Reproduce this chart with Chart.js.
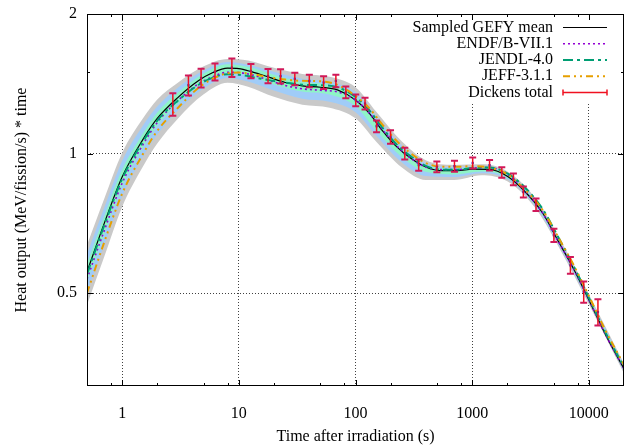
<!DOCTYPE html>
<html lang="en">
<head>
<meta charset="UTF-8">
<title>Heat output after irradiation</title>
<script src="https://cdn.jsdelivr.net/npm/chart.js@4.4.1/dist/chart.umd.min.js"></script>
<style>
    html, body { margin: 0; padding: 0; background: #fff; }
    #heatChart { display: block; }
</style>
</head>
<body>
<canvas id="heatChart" width="628" height="445"></canvas>
<script>
// time grid for the evaluated curves (s)
const modelTimes = [0.5, 0.7, 1, 1.5, 2, 3, 4.5, 6, 8, 10, 13, 18, 25, 35, 50, 70, 100, 130, 170, 220,
    300, 400, 550, 750, 1000, 1400, 2000, 2800, 4000, 5500, 7500, 10000, 14000, 20000];
const gefyMean = [0.555, 0.705, 0.89, 1.07, 1.19, 1.32, 1.435, 1.495, 1.528, 1.525, 1.50, 1.462, 1.423, 1.400, 1.390, 1.372, 1.305, 1.225, 1.12, 1.04,
    0.975, 0.935, 0.918, 0.918, 0.925, 0.924, 0.893, 0.83, 0.745, 0.645, 0.56, 0.483, 0.405, 0.343];
const endfB71 = [0.536, 0.680, 0.863, 1.043, 1.166, 1.300, 1.413, 1.465, 1.497, 1.495, 1.478, 1.440, 1.402, 1.379, 1.369, 1.358, 1.305, 1.225, 1.126, 1.045,
    0.975, 0.935, 0.923, 0.923, 0.930, 0.933, 0.902, 0.834, 0.745, 0.645, 0.56, 0.483, 0.405, 0.343];
const jendl40 = [0.549, 0.698, 0.881, 1.059, 1.178, 1.300, 1.406, 1.458, 1.482, 1.479, 1.463, 1.440, 1.423, 1.407, 1.404, 1.390, 1.325, 1.243, 1.137, 1.052,
    0.985, 0.940, 0.923, 0.923, 0.930, 0.933, 0.906, 0.847, 0.760, 0.658, 0.568, 0.488, 0.409, 0.346];
const jeff311 = [0.50, 0.642, 0.819, 0.995, 1.119, 1.254, 1.385, 1.450, 1.490, 1.495, 1.485, 1.462, 1.444, 1.435, 1.432, 1.406, 1.331, 1.256, 1.154, 1.071,
    0.999, 0.954, 0.936, 0.936, 0.939, 0.933, 0.902, 0.838, 0.756, 0.658, 0.571, 0.493, 0.413, 0.350];

// sampled uncertainty bands
const bandTimes = [0.5, 0.7, 1, 1.5, 2, 3, 5, 8, 12, 20, 35, 60, 100, 150, 250, 400, 700, 1200, 2000, 3500, 6000, 10000, 20000];
const grayHi = [0.635, 0.797, 1.003, 1.188, 1.308, 1.422, 1.542, 1.600, 1.587, 1.531, 1.485, 1.464, 1.390, 1.232, 1.061, 0.967, 0.945, 0.948, 0.915, 0.800, 0.636, 0.497, 0.352];
const grayLo = [0.471, 0.597, 0.767, 0.935, 1.051, 1.189, 1.342, 1.421, 1.394, 1.325, 1.274, 1.256, 1.191, 1.062, 0.933, 0.877, 0.877, 0.898, 0.871, 0.761, 0.605, 0.473, 0.335];
const blueHi = [0.607, 0.762, 0.964, 1.147, 1.263, 1.387, 1.511, 1.576, 1.555, 1.501, 1.449, 1.428, 1.355, 1.201, 1.040, 0.953, 0.935, 0.939, 0.906, 0.792, 0.629, 0.492, 0.348];
const blueLo = [0.503, 0.634, 0.810, 0.983, 1.099, 1.237, 1.383, 1.456, 1.430, 1.367, 1.312, 1.293, 1.228, 1.094, 0.956, 0.894, 0.890, 0.907, 0.880, 0.768, 0.611, 0.478, 0.338];
const greenHi = [0.578, 0.730, 0.922, 1.102, 1.226, 1.352, 1.488, 1.558, 1.538, 1.478, 1.427, 1.406, 1.328, 1.176, 1.023, 0.941, 0.928, 0.936, 0.899, 0.786, 0.624, 0.488, 0.346];
const greenLo = [0.530, 0.668, 0.850, 1.028, 1.149, 1.282, 1.425, 1.494, 1.474, 1.409, 1.360, 1.340, 1.265, 1.122, 0.981, 0.913, 0.901, 0.914, 0.887, 0.774, 0.616, 0.482, 0.340];

// Dickens measurement (value, relative error in %)
const dickensTimes = [2.72, 3.70, 4.75, 6.25, 8.72, 12.7, 17.8, 22.8, 30.2, 40.2, 53.3, 67.9, 82.6, 100.5, 120.7, 151.6,
    199.6, 264.5, 348, 498, 705, 1010, 1409, 1794, 2256, 2746, 3524, 5015, 6947, 9032, 11958];
const dickensValues = [1.278, 1.404, 1.456, 1.50, 1.533, 1.507, 1.470, 1.468, 1.449, 1.434, 1.423, 1.434, 1.356, 1.303, 1.282, 1.145,
    1.086, 1.0, 0.944, 0.936, 0.939, 0.954, 0.944, 0.910, 0.880, 0.826, 0.776, 0.666, 0.574, 0.503, 0.455];
const dickensErrPct = [5.6, 5.0, 4.7, 4.2, 4.6, 3.5, 3.5, 3.5, 3.1, 3.1, 3.2, 3.1, 2.9, 2.9, 2.9, 2.9,
    3.3, 2.9, 2.8, 2.7, 2.7, 2.7, 2.6, 2.6, 2.9, 2.7, 3.1, 3.3, 4.2, 5.3, 6.5];

const xTicks = [1, 10, 100, 1000, 10000];
const yTicks = [0.5, 1, 2];
const xMinorTicks = [0.8, 2, 5, 8, 20, 50, 80, 200, 500, 800, 2000, 5000, 8000];
const yMinorTicks = [1.5];

const FONT = 'Liberation Serif';
const toPoints = (xs, ys) => xs.map((x, i) => ({ x: x, y: ys[i] }));

function lineSet(label, ys, color, width, dash, order) {
    return {
        label: label, data: toPoints(modelTimes, ys), borderColor: color, borderWidth: width,
        borderDash: dash, pointRadius: 0, fill: false, cubicInterpolationMode: 'monotone', order: order
    };
}
function bandSet(ys, color, fill, order) {
    return {
        data: toPoints(bandTimes, ys), borderWidth: 0, borderColor: 'rgba(0,0,0,0)', backgroundColor: color,
        pointRadius: 0, fill: fill, cubicInterpolationMode: 'monotone', order: order
    };
}

// legend entries drawn gnuplot style (text right, sample left)
const legendItems = [
    { text: 'Sampled GEFY mean', color: '#000000', width: 1.2, dash: [] },
    { text: 'ENDF/B-VII.1', color: '#9400d3', width: 1.6, dash: [2, 3] },
    { text: 'JENDL-4.0', color: '#009e73', width: 2, dash: [10, 4, 3, 4] },
    { text: 'JEFF-3.1.1', color: '#e69f00', width: 2, dash: [7, 4, 2, 4, 2, 4] },
    { text: 'Dickens total', color: '#f01020', width: 1.5, dash: [], bar: true }
];

const gnuplotDecor = {
    id: 'gnuplotDecor',
    beforeDatasetsDraw(chart) {
        const { ctx, chartArea: a } = chart;
        ctx.save();
        ctx.fillStyle = '#fff';
        ctx.fillRect(400, a.top + 1, a.right - 401, 87);
        ctx.restore();
    },
    afterDatasetsDraw(chart) {
        const { ctx, chartArea: a, scales: { x, y } } = chart;
        ctx.save();

        // error bars
        dickensTimes.forEach((t, i) => {
            const px = x.getPixelForValue(t);
            const v = dickensValues[i], e = dickensErrPct[i] / 100;
            const top = y.getPixelForValue(v * (1 + e));
            const bot = y.getPixelForValue(v * (1 - e));
            ctx.strokeStyle = '#f01020';
            ctx.lineWidth = 1.5;
            ctx.beginPath();
            ctx.moveTo(px, top); ctx.lineTo(px, bot);
            ctx.stroke();
            ctx.strokeStyle = '#d0185a';
            ctx.lineWidth = 2;
            ctx.beginPath();
            ctx.moveTo(px - 3.5, top); ctx.lineTo(px + 3.5, top);
            ctx.moveTo(px - 3.5, bot); ctx.lineTo(px + 3.5, bot);
            ctx.stroke();
        });

        // frame
        ctx.strokeStyle = '#000';
        ctx.lineWidth = 1;
        ctx.setLineDash([]);
        ctx.strokeRect(Math.round(a.left) + 0.5, Math.round(a.top) + 0.5,
            Math.round(a.right - a.left) - 1, Math.round(a.bottom - a.top) - 1);

        // inward tick marks, mirrored on all sides
        ctx.beginPath();
        const xt = (vals, len) => vals.forEach(v => {
            const p = Math.round(x.getPixelForValue(v)) + 0.5;
            ctx.moveTo(p, a.bottom); ctx.lineTo(p, a.bottom - len);
            ctx.moveTo(p, a.top); ctx.lineTo(p, a.top + len);
        });
        const yt = (vals, len) => vals.forEach(v => {
            const p = Math.round(y.getPixelForValue(v)) + 0.5;
            ctx.moveTo(a.left, p); ctx.lineTo(a.left + len, p);
            ctx.moveTo(a.right, p); ctx.lineTo(a.right - len, p);
        });
        xt(xTicks, 6); xt(xMinorTicks, 3);
        yt(yTicks, 6); yt(yMinorTicks, 3);
        ctx.stroke();

        // legend
        ctx.font = '16px "' + FONT + '"';
        ctx.textAlign = 'right';
        ctx.textBaseline = 'middle';
        legendItems.forEach((it, i) => {
            const ly = 27.5 + i * 16.25;
            ctx.fillStyle = '#000';
            ctx.fillText(it.text, 553, ly);
            ctx.strokeStyle = it.color;
            ctx.lineWidth = it.width;
            ctx.setLineDash(it.dash);
            ctx.beginPath();
            ctx.moveTo(563, ly); ctx.lineTo(607, ly);
            if (it.bar) {
                ctx.moveTo(563, ly - 3); ctx.lineTo(563, ly + 3);
                ctx.moveTo(607, ly - 3); ctx.lineTo(607, ly + 3);
            }
            ctx.stroke();
            ctx.setLineDash([]);
        });
        ctx.restore();
    }
};

// invisible tick marks reserve the label gap, so the scale padding stays small
const gridOpts = { color: 'rgba(0,0,0,0.75)', lineWidth: 1, drawTicks: true, tickColor: 'rgba(0,0,0,0)' };

new Chart(document.getElementById('heatChart'), {
    type: 'line',
    data: {
        datasets: [
            lineSet('Sampled GEFY mean', gefyMean, '#000000', 1.2, [], 4),
            lineSet('ENDF/B-VII.1', endfB71, '#9400d3', 1.6, [2, 3], 3),
            lineSet('JENDL-4.0', jendl40, '#009e73', 2, [10, 4, 3, 4], 2),
            lineSet('JEFF-3.1.1', jeff311, '#e69f00', 2, [7, 4, 2, 4, 2, 4], 1),
            {
                label: 'Dickens total', data: toPoints(dickensTimes, dickensValues), showLine: false,
                pointRadius: 1.6, pointStyle: 'rect', pointBackgroundColor: '#2a2ad0', pointBorderWidth: 0, order: 0
            },
            bandSet(grayHi, '#c9c9c9', '+1', 20),
            bandSet(grayLo, '#c9c9c9', false, 20),
            bandSet(blueHi, '#a0ccf8', '+1', 19),
            bandSet(blueLo, '#a0ccf8', false, 19),
            bandSet(greenHi, '#8ef4c6', '+1', 18),
            bandSet(greenLo, '#8ef4c6', false, 18)
        ]
    },
    options: {
        responsive: false,
        animation: false,
        devicePixelRatio: 1,
        layout: { padding: { top: 14, right: 0, left: 0, bottom: 0 } },
        plugins: { legend: { display: false }, tooltip: { enabled: false } },
        scales: {
            x: {
                type: 'logarithmic', min: 0.5, max: 20000, bounds: 'data',
                afterBuildTicks: s => { s.ticks = xTicks.map(v => ({ value: v })); },
                afterFit: s => { s.height = 59; },
                ticks: {
                    callback: v => String(v), autoSkip: false, maxRotation: 0, padding: 0,
                    color: '#000', font: { family: FONT, size: 16 }
                },
                grid: Object.assign({ tickLength: 18 }, gridOpts),
                border: { display: false, dash: [1, 2] },
                title: {
                    display: true, text: 'Time after irradiation (s)', color: '#000',
                    font: { family: FONT, size: 16, lineHeight: 1 }, padding: { top: 0, bottom: 0 }
                }
            },
            y: {
                type: 'logarithmic', min: 0.315, max: 2, bounds: 'data',
                afterBuildTicks: s => { s.ticks = yTicks.map(v => ({ value: v })); },
                afterFit: s => { s.width = 87; },
                ticks: {
                    callback: v => String(v), autoSkip: false, padding: 0,
                    color: '#000', font: { family: FONT, size: 16 }
                },
                grid: Object.assign({ tickLength: 10 }, gridOpts),
                border: { display: false, dash: [1, 2] },
                title: {
                    display: true, text: 'Heat output (MeV/fission/s) * time', color: '#000',
                    font: { family: FONT, size: 16 }, padding: { top: 12, bottom: 0 }
                }
            }
        }
    },
    plugins: [gnuplotDecor]
});
</script>
</body>
</html>
